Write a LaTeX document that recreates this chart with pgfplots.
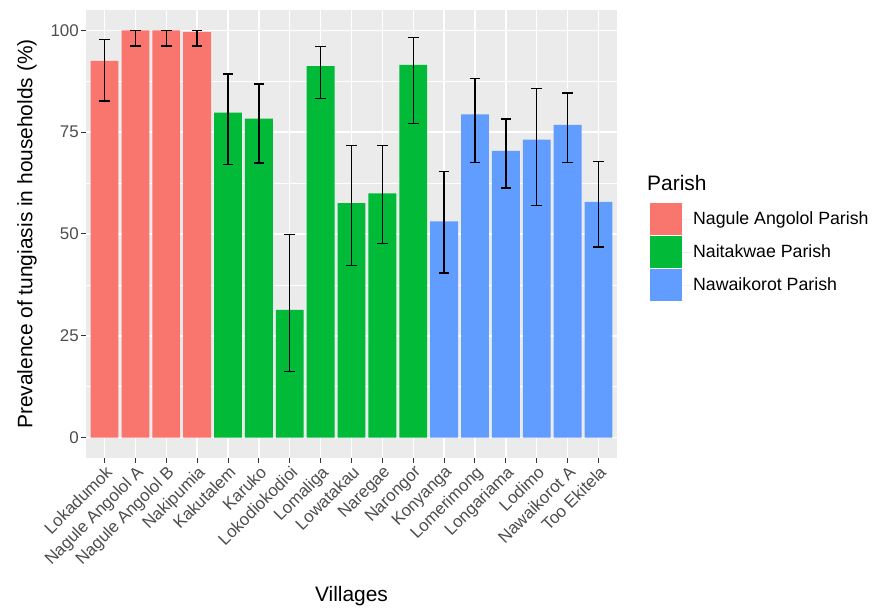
\documentclass[border=0pt]{standalone}
\usepackage{pgfplots}
\usepackage{pgfplotstable}
\usepackage{fontspec}
\setmainfont{Liberation Sans}
\pgfplotsset{compat=1.18}

\definecolor{panelbg}{HTML}{EBEBEB}
\definecolor{tickgrey}{HTML}{333333}
\definecolor{labelgrey}{HTML}{4D4D4D}
\definecolor{parishA}{HTML}{F8766D}
\definecolor{parishB}{HTML}{00BA38}
\definecolor{parishC}{HTML}{619CFF}

% village index, prevalence (%), lower and upper limits of the error bar
\pgfplotstableread{
x  y     lo    hi
0  92.5  82.7  97.7
1  100   96.2  100
2  100   96.2  100
3  99.6  96.2  100
}\nagule
\pgfplotstableread{
x  y     lo    hi
4  79.8  67.1  89.3
5  78.3  67.4  86.8
6  31.4  16.2  49.9
7  91.2  83.2  96.1
8  57.6  42.3  71.7
9  60.0  47.7  71.7
10 91.5  77.1  98.3
}\naitakwae
\pgfplotstableread{
x  y     lo    hi
11 53.1  40.4  65.3
12 79.4  67.5  88.2
13 70.4  61.3  78.2
14 73.2  57.0  85.7
15 76.8  67.5  84.6
16 57.9  46.8  67.8
}\nawaikorot

\begin{document}
\begin{tikzpicture}
\useasboundingbox (-86bp,-150bp) rectangle (789bp,458bp);
\begin{axis}[
  scale only axis,
  width=531bp, height=448bp,
  xmin=-0.6, xmax=16.6,
  ymin=-5, ymax=105,
  axis background/.style={fill=panelbg},
  axis line style={draw=none},
  xtick={0,...,16},
  xticklabels={Lokadumok,Nagule Angolol A,Nagule Angolol B,Nakipumia,Kakutalem,Karuko,Lokodiokodioi,Lomaliga,Lowatakau,Naregae,Narongor,Konyanga,Lomerimong,Longariama,Lodimo,Nawaikorot A,Too Ekitela},
  ytick={0,25,50,75,100},
  minor ytick={12.5,37.5,62.5,87.5},
  grid=both,
  major grid style={white, line width=1.4bp},
  minor grid style={white, line width=0.7bp},
  xtick pos=left, ytick pos=left,
  tick align=outside,
  major tick length=5bp, minor tick length=0pt,
  tick style={color=tickgrey, line width=1bp},
  /pgf/number format/assume math mode=true,
  yticklabel style={font=\fontsize{17}{20}\selectfont, text=labelgrey, inner sep=1bp, xshift=-1bp},
  xticklabel style={font=\fontsize{17}{20}\selectfont, text=labelgrey, rotate=45, anchor=north east, inner sep=1bp},
  xlabel={Villages},
  ylabel={Prevalence of tungiasis in households (\%)},
  every axis x label/.style={at={(axis description cs:0.5,-0.308)}, anchor=center, font=\fontsize{21}{24}\selectfont},
  every axis y label/.style={at={(axis description cs:-0.111,0.5)}, rotate=90, anchor=center, font=\fontsize{21}{24}\selectfont},
  legend style={at={(axis description cs:1.062,0.569)}, anchor=north west, draw=none, fill=none,
    inner sep=0pt, row sep=1bp, font=\fontsize{17.8}{20}\selectfont,
    nodes={inner sep=1bp}},
  legend cell align=left,
  legend image code/.code={\fill[#1] (0bp,-16bp) rectangle (32bp,16bp); \path (0bp,0bp) -- (42bp,0bp);},
  error bars/y dir=both,
  error bars/y explicit,
  error bars/error bar style={black, line width=1.4bp},
  error bars/error mark options={black, rotate=90, mark size=5.3bp, line width=1.4bp},
]
\addplot[ybar, bar width=0.9, bar shift=0pt, fill=parishA, draw=none]
  table[x=x, y=y, y error plus expr=\thisrow{hi}-\thisrow{y}, y error minus expr=\thisrow{y}-\thisrow{lo}] {\nagule};
\addlegendentry{Nagule Angolol Parish}
\addplot[ybar, bar width=0.9, bar shift=0pt, fill=parishB, draw=none]
  table[x=x, y=y, y error plus expr=\thisrow{hi}-\thisrow{y}, y error minus expr=\thisrow{y}-\thisrow{lo}] {\naitakwae};
\addlegendentry{Naitakwae Parish}
\addplot[ybar, bar width=0.9, bar shift=0pt, fill=parishC, draw=none]
  table[x=x, y=y, y error plus expr=\thisrow{hi}-\thisrow{y}, y error minus expr=\thisrow{y}-\thisrow{lo}] {\nawaikorot};
\addlegendentry{Nawaikorot Parish}
\end{axis}
% legend title
\node[anchor=west, inner sep=0pt, font=\fontsize{21}{24}\selectfont] at (561bp,275bp) {Parish};
\end{tikzpicture}
\end{document}
